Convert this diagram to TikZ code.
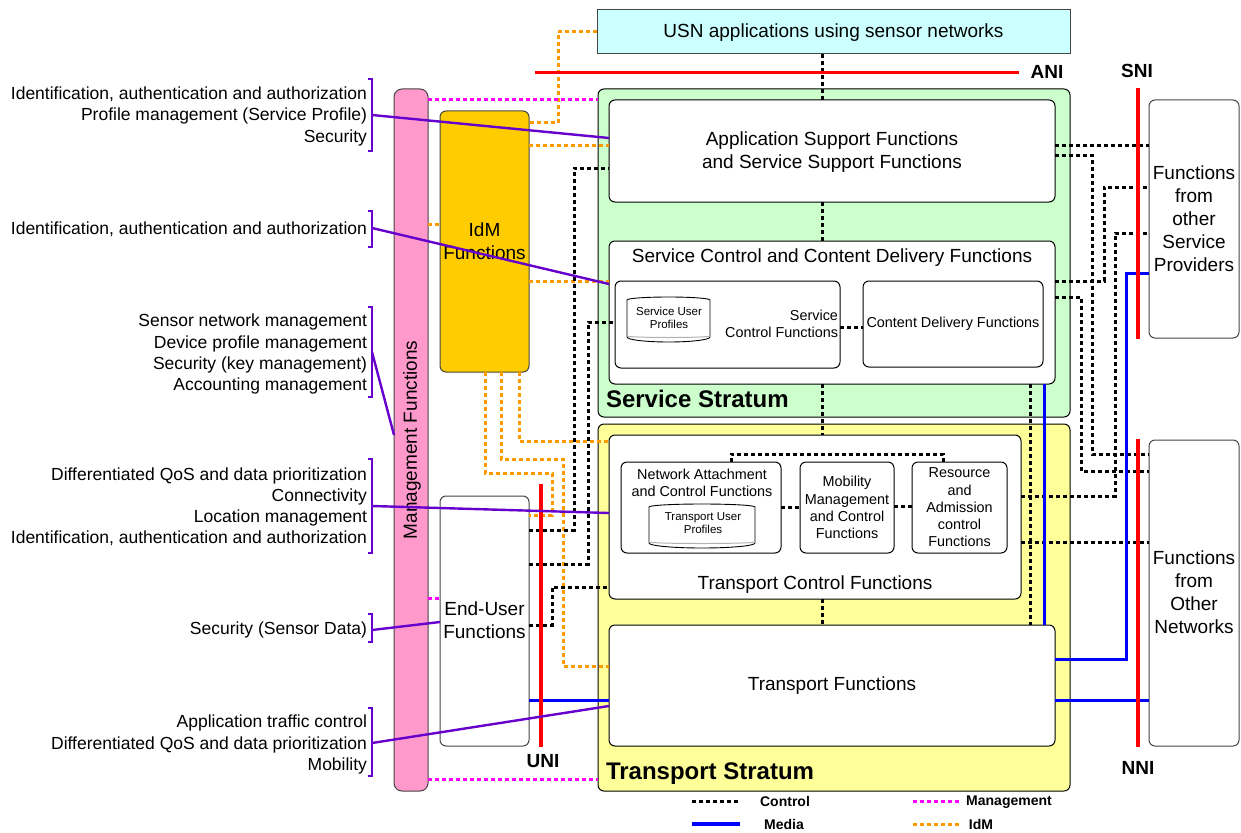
\documentclass[tikz,border=0pt]{standalone}
\usepackage{fontspec}
\setmainfont{Liberation Sans}
\definecolor{cgreen}{HTML}{CCFFCC}
\definecolor{cyellow}{HTML}{FFFF99}
\definecolor{ccyan}{HTML}{CCFFFF}
\definecolor{cpink}{HTML}{FF99CC}
\definecolor{cgold}{HTML}{FFCC00}
\definecolor{cpurple}{HTML}{6600CC}
\definecolor{corange}{HTML}{FF9900}
\definecolor{cmagenta}{HTML}{FF00FF}
\definecolor{cblue}{HTML}{0000FF}
\definecolor{cred}{HTML}{FF0000}
\definecolor{edge}{HTML}{444444}
\tikzset{
  box/.style={draw=edge,line width=1pt,fill=white,rounded corners=6pt,inner sep=0pt,outer sep=0pt,anchor=north west,align=center,font=\fontsize{19}{23}\selectfont},
  sbox/.style={box,font=\fontsize{14.4}{17.3}\selectfont},
  lbl/.style={inner sep=0pt,outer sep=0pt,align=center,font=\fontsize{19}{23}\selectfont},
  slbl/.style={lbl,font=\fontsize{14.4}{17.3}\selectfont},
  left lbl/.style={inner sep=0pt,outer sep=0pt,anchor=east,font=\fontsize{17.5}{21}\selectfont},
  strat/.style={inner sep=0pt,outer sep=0pt,anchor=west,font=\bfseries\fontsize{24}{28}\selectfont},
  iface/.style={inner sep=0pt,outer sep=0pt,font=\bfseries\fontsize{19}{23}\selectfont},
  leg/.style={inner sep=0pt,outer sep=0pt,font=\bfseries\fontsize{14}{17}\selectfont},
  ctl/.style={draw=black,line width=3pt,dash pattern=on 4pt off 3pt},
  med/.style={draw=cblue,line width=3pt},
  mgt/.style={draw=cmagenta,line width=3pt,dash pattern=on 4pt off 3pt},
  idm/.style={draw=corange,line width=3pt,dash pattern=on 4pt off 3pt},
  refp/.style={draw=cred,line width=3.4pt},
  link/.style={draw=cpurple,line width=2.4pt},
  brk/.style={draw=cpurple,line width=2pt},
  cyltxt/.style={inner sep=0pt,outer sep=0pt,align=center,font=\fontsize{11.5}{13}\selectfont},
  cylbody/.style={draw=black,line width=.9pt,fill=white}
}
\newcommand{\bx}[7][box]{\node[#1,minimum width={#5-#3},minimum height={#6-#4},#7] (#2) at (#3,#4)}
% x1 xradius ytop ybottom
\newcommand{\cylbody}[4]{%
  \draw[cylbody] (#1,#3) -- (#1,#4) arc[start angle=180,end angle=360,x radius=#2 pt,y radius=5pt]
     -- ++(0,{#3-#4}) arc[start angle=0,end angle=180,x radius=#2 pt,y radius=3pt] -- cycle;
  \draw[draw=black!30,line width=1pt] (#1,#4-1) arc[start angle=180,end angle=360,x radius=#2 pt,y radius=1.5pt];
}
\begin{document}
\begin{tikzpicture}[x=1pt,y=-1pt]
\useasboundingbox (0,0) rectangle (1241,832);
% containers
\bx{usn}{597}{10}{1070}{54}{fill=ccyan,rounded corners=0pt}{};
\bx{sstr}{598}{89}{1070}{417}{fill=cgreen,draw=black}{};
\bx{tstr}{598}{424}{1070}{791}{fill=cyellow,draw=black}{};
\bx{mgmt}{394}{89}{428}{791}{fill=cpink,rounded corners=8pt}{};
\bx{idmf}{440}{111}{529}{372}{fill=cgold}{IdM\\Functions};
\bx{eu}{440}{496}{529}{746}{}{};
\bx{fosp}{1149}{100}{1239}{338}{}{};
\bx{fon}{1149}{440}{1239}{746}{}{};
\bx{asf}{609}{100}{1055}{202}{draw=black}{};
\bx{sccd}{609}{241}{1055}{384}{draw=black}{};
\bx{scf}{615}{281}{840}{368}{draw=black}{};
\bx[sbox]{cdf}{863}{281}{1043}{367}{draw=black}{Content Delivery Functions};
\bx{tcf}{609}{435}{1021}{599}{draw=black}{};
\bx[sbox]{nacf}{621}{462}{781}{553}{draw=black}{};
\bx[sbox]{mob}{800}{462}{894}{553}{draw=black}{Mobility\\Management\\and Control\\Functions};
\bx[sbox]{racf}{912}{462}{1007}{553}{draw=black}{Resource\\and\\Admission\\control\\Functions};
\bx{tf}{609}{625}{1055}{746}{draw=black}{};
% cylinders
\cylbody{627}{41.5}{300}{337}
\cylbody{649}{53}{507}{543}
\node[cyltxt] (sup) at (669,318) {Service User\\Profiles};
\node[cyltxt] (tup) at (703,523.5) {Transport User\\Profiles};
% labels
\node[lbl] (usntxt) at (833.5,33) {USN applications using sensor networks};
\node[lbl] (asftxt) at (832,152) {Application Support Functions\\and Service Support Functions};
\node[lbl] (tftxt) at (832,686) {Transport Functions};
\node[lbl] (eutxt) at (484.5,620) {End-User\\Functions};
\node[lbl] (fosptxt) at (1194,219) {Functions\\from\\other\\Service\\Providers};
\node[lbl] (fontxt) at (1194,592.5) {Functions\\from\\Other\\Networks};
\node[lbl,rotate=90] (mgmttxt) at (412,440) {Management Functions};
\node[lbl] (sccdtxt) at (832,257.5) {Service Control and Content Delivery Functions};
\node[slbl,align=right,anchor=east] (scftxt) at (838,323.5) {Service\\Control Functions};
\node[slbl] (nacftxt) at (702,482.5) {Network Attachment\\and Control Functions};
\node[lbl] (tcftxt) at (815,585) {Transport Control Functions};
\node[strat] (sstxt) at (606,399) {Service Stratum};
\node[strat] (tstxt) at (606,774) {Transport Stratum};
\node[iface] (ani) at (1047,72) {ANI};
\node[iface] (sni) at (1137,71) {SNI};
\node[iface] (uni) at (543,761) {UNI};
\node[iface] (nni) at (1138,768) {NNI};
% left labels
\foreach \n/\y/\t in {a/94.5/{Identification, authentication and authorization},
 b/115.5/{Profile management (Service Profile)},
 c/137.5/{Security},
 d/229.5/{Identification, authentication and authorization},
 e/321.5/{Sensor network management},
 f/343.5/{Device profile management},
 g/364.5/{Security (key management)},
 h/385.5/{Accounting management},
 i/475.5/{Differentiated QoS and data prioritization},
 j/496.5/{Connectivity},
 k/517.5/{Location management},
 l/538.5/{Identification, authentication and authorization},
 m/629.5/{Security (Sensor Data)},
 n/722.5/{Application traffic control},
 o/744.5/{Differentiated QoS and data prioritization},
 p/765.5/{Mobility}}
  \node[left lbl] (lab\n) at (367,\y) {\t};
% brackets
\draw[brk] (368,79) -- (372,79) -- (372,151) -- (368,151);
\draw[brk] (368,211) -- (372,211) -- (372,247) -- (368,247);
\draw[brk] (368,307) -- (372,307) -- (372,397) -- (368,397);
\draw[brk] (368,459) -- (372,459) -- (372,553) -- (368,553);
\draw[brk] (368,614) -- (372,614) -- (372,642) -- (368,642);
\draw[brk] (368,708) -- (372,708) -- (372,776) -- (368,776);
\coordinate (b1) at (372,115);
\coordinate (b2) at (372,228);
\coordinate (b3) at (372,352);
\coordinate (b4) at (372,506);
\coordinate (b5) at (372,630);
\coordinate (b6) at (372,743);
% reference points
\coordinate (ani1) at (535,72.5); \coordinate (ani2) at (1019,72.5);
\coordinate (sni1) at (1138,88); \coordinate (sni2) at (1138,339);
\coordinate (nni1) at (1138,439); \coordinate (nni2) at (1138,747);
\coordinate (uni1) at (541,484); \coordinate (uni2) at (541,747);
% idm
\draw[idm] (usn.west |- 0,32) -- (558,32) -- (558,123) -- (idmf.east |- 0,123);
\draw[idm] (idmf.east |- 0,145) -- (asf.west |- 0,145);
\draw[idm] (idmf.east |- 0,281) -- (sccd.west |- 0,281);
\draw[idm] (mgmt.east |- 0,224) -- (idmf.west |- 0,224);
\draw[idm] (idmf.south -| 485,0) -- (485,473) -- (552,473) -- (552,515) -- (eu.east |- 0,515);
\draw[idm] (idmf.south -| 501,0) -- (501,459) -- (563,459) -- (563,666) -- (tf.west |- 0,666);
\draw[idm] (idmf.south -| 519,0) -- (519,441) -- (tcf.west |- 0,441);
% management
\draw[mgt] (mgmt.east |- 0,100) -- (sstr.west |- 0,100);
\draw[mgt] (mgmt.east |- 0,598) -- (eu.west |- 0,598);
\draw[mgt] (mgmt.east |- 0,779) -- (tstr.west |- 0,779);
% control
\draw[ctl] (usn.south -| 822,0) -- (asf.north -| 822,0);
\draw[ctl] (asf.south -| 822,0) -- (sccd.north -| 822,0);
\draw[ctl] (sccd.south -| 822,0) -- (tcf.north -| 822,0);
\draw[ctl] (tcf.south -| 822,0) -- (tf.north -| 822,0);
\draw[ctl] (eu.east |- 0,530) -- (574,530) -- (574,168) -- (asf.west |- 0,168);
\draw[ctl] (eu.east |- 0,564) -- (588,564) -- (588,322) -- (scf.west |- 0,322);
\draw[ctl] (eu.east |- 0,625) -- (552,625) -- (552,587) -- (tcf.west |- 0,587);
\draw[ctl] (scf.east |- 0,327) -- (cdf.west |- 0,327);
\draw[ctl] (nacf.east |- 0,507) -- (mob.west |- 0,507);
\draw[ctl] (mob.east |- 0,506) -- (racf.west |- 0,506);
\draw[ctl] (nacf.north -| 731,0) -- (731,454) -- (943,454) -- (racf.north -| 943,0);
\draw[ctl] (asf.east |- 0,145) -- (fosp.west |- 0,145);
\draw[ctl] (asf.east |- 0,155) -- (1092,155) -- (1092,454) -- (fon.west |- 0,454);
\draw[ctl] (sccd.east |- 0,281) -- (1104,281) -- (1104,187) -- (fosp.west |- 0,187);
\draw[ctl] (sccd.east |- 0,297) -- (1081,297) -- (1081,471) -- (fon.west |- 0,471);
\draw[ctl] (tcf.east |- 0,496) -- (1115,496) -- (1115,233) -- (fosp.west |- 0,233);
\draw[ctl] (tcf.east |- 0,542) -- (fon.west |- 0,542);
\draw[ctl] (sccd.south -| 1030,0) -- (tf.north -| 1030,0);
% media
\draw[med] (sccd.south -| 1044,0) -- (tf.north -| 1044,0);
\draw[med] (tf.east |- 0,659) -- (1126,659) -- (1126,273) -- (fosp.west |- 0,273);
\draw[med] (tf.east |- 0,700) -- (fon.west |- 0,700);
\draw[med] (eu.east |- 0,700) -- (tf.west |- 0,700);
% red lines
\draw[refp] (ani1) -- (ani2);
\draw[refp] (sni1) -- (sni2);
\draw[refp] (nni1) -- (nni2);
\draw[refp] (uni1) -- (uni2);
% purple
\draw[link] (b1) -- (asf.west |- 0,138);
\draw[link] (b2) -- (sccd.west |- 0,284);
\draw[link] (b3) -- (mgmt.west |- 0,435);
\draw[link] (b4) -- (tcf.west |- 0,513);
\draw[link] (b5) -- (eu.west |- 0,622);
\draw[link] (b6) -- (tf.west |- 0,706);
% legend
\coordinate (l1a) at (692,801); \coordinate (l1b) at (740,801);
\coordinate (l2a) at (692,824); \coordinate (l2b) at (740,824);
\coordinate (l3a) at (913,801); \coordinate (l3b) at (960,801);
\coordinate (l4a) at (913,824); \coordinate (l4b) at (960,824);
\draw[ctl] (l1a) -- (l1b);
\draw[med,line width=3.4pt] (l2a) -- (l2b);
\draw[mgt] (l3a) -- (l3b);
\draw[idm] (l4a) -- (l4b);
\node[leg] (legc) at (785,801) {Control};
\node[leg] (legm) at (784,824) {Media};
\node[leg] (legg) at (1009,802.5) {Management};
\node[leg] (legi) at (981,824) {IdM};
\end{tikzpicture}
\end{document}
